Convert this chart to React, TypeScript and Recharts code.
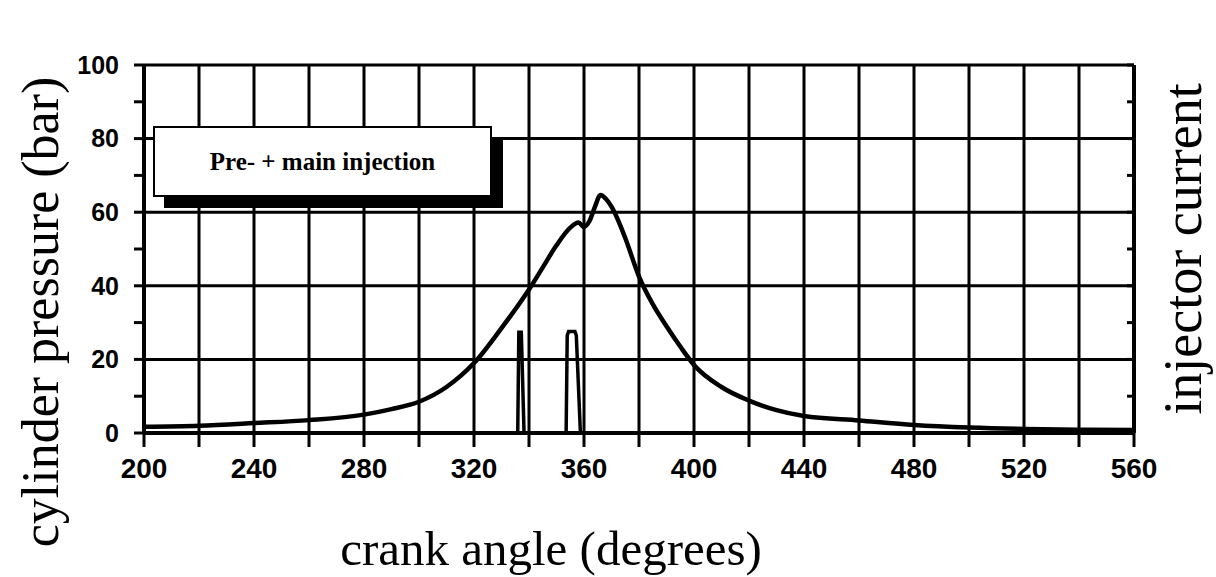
import { ComposedChart, Line, XAxis, YAxis, CartesianGrid, Label } from 'recharts';

// cylinder pressure trace (bar) vs crank angle (deg)
const crankAngle = [200, 220, 240, 260, 280, 290, 300, 310, 320, 330, 340, 345, 350, 355, 358, 360, 362, 364, 366, 368, 370, 375, 380, 385, 390, 395, 400, 410, 420, 430, 440, 460, 480, 500, 520, 540, 560];
const cylinderPressure = [1.7, 2.0, 2.7, 3.5, 5.0, 6.5, 8.5, 12.5, 19, 28.5, 39, 45, 51, 55.8, 57.2, 56, 57.6, 61.5, 64.7, 63.6, 61.5, 53, 42.5, 35, 29, 23.5, 18.5, 12.5, 8.8, 6.2, 4.6, 3.4, 2.2, 1.5, 1.1, 0.9, 0.8];

// injector current pulses (pre + main), same 0-100 scale on the right
const currentAngle = [330, 335.9, 336.3, 337.2, 338.2, 353.5, 353.9, 354.4, 356.7, 357.2, 358.7, 366];
const injectorCurrent = [0, 0, 27.4, 27.4, 0, 0, 26.5, 27.6, 27.6, 26.5, 0, 0];

const xTicks = [200, 220, 240, 260, 280, 300, 320, 340, 360, 380, 400, 420, 440, 460, 480, 500, 520, 540, 560];
const yTicks = [0, 10, 20, 30, 40, 50, 60, 70, 80, 90, 100];
const yGrid = [0, 20, 40, 60, 80, 100];

const pressureData = crankAngle.map((angle, i) => ({ angle, pressure: cylinderPressure[i] }));
const currentData = currentAngle.map((angle, i) => ({ angle, current: injectorCurrent[i] }));

const serif = '"Liberation Serif", "Times New Roman", serif';
const sans = '"Liberation Sans", Arial, sans-serif';

export default function App() {
  return (
    <div style={{ position: 'absolute', left: 0, top: 0, width: 1216, height: 577, background: '#fff' }}>
      <ComposedChart width={1216} height={577} margin={{ top: 65, right: 82, bottom: 104, left: 84 }}>
        <CartesianGrid
          yAxisId="left"
          stroke="#000"
          strokeWidth={3}
          verticalValues={xTicks}
          horizontalValues={yGrid}
        />
        <XAxis
          dataKey="angle"
          type="number"
          domain={[200, 560]}
          ticks={xTicks}
          allowDataOverflow
          height={40}
          tickSize={14}
          tickMargin={11}
          axisLine={{ stroke: '#000', strokeWidth: 4 }}
          tickLine={{ stroke: '#000', strokeWidth: 3 }}
          tick={{ fill: '#000', fontSize: 28, fontWeight: 700, fontFamily: sans }}
          tickFormatter={(v: number) => (v % 40 === 0 ? String(v) : '')}
        >
          <Label
            content={() => (
              <text x={551} y={565} textAnchor="middle" fontFamily={serif} fontSize={49} fill="#000">
                crank angle (degrees)
              </text>
            )}
          />
        </XAxis>
        <YAxis
          yAxisId="left"
          domain={[0, 100]}
          ticks={yTicks}
          width={60}
          tickSize={10}
          tickMargin={15}
          axisLine={{ stroke: '#000', strokeWidth: 4 }}
          tickLine={{ stroke: '#000', strokeWidth: 3 }}
          tick={{ fill: '#000', fontSize: 25, fontWeight: 700, fontFamily: sans }}
          tickFormatter={(v: number) => (v % 20 === 0 ? String(v) : '')}
        >
          <Label
            content={() => (
              <text
                x={58}
                y={312}
                transform="rotate(-90 58 312)"
                textAnchor="middle"
                fontFamily={serif}
                fontSize={52}
                fill="#000"
              >
                cylinder pressure (bar)
              </text>
            )}
          />
        </YAxis>
        <YAxis
          yAxisId="right"
          orientation="right"
          domain={[0, 100]}
          ticks={yTicks}
          width={1}
          mirror
          tickSize={7}
          axisLine={{ stroke: '#000', strokeWidth: 4 }}
          tickLine={{ stroke: '#000', strokeWidth: 3 }}
          tickFormatter={() => ''}
        >
          <Label
            content={() => (
              <text
                x={1201}
                y={249}
                transform="rotate(-90 1201 249)"
                textAnchor="middle"
                fontFamily={serif}
                fontSize={54}
                fill="#000"
              >
                injector current
              </text>
            )}
          />
        </YAxis>
        <Line
          yAxisId="left"
          data={pressureData}
          dataKey="pressure"
          type="monotone"
          stroke="#000"
          strokeWidth={4.5}
          dot={false}
          isAnimationActive={false}
        />
        <Line
          yAxisId="right"
          data={currentData}
          dataKey="current"
          type="linear"
          stroke="#000"
          strokeWidth={3.5}
          dot={false}
          isAnimationActive={false}
        />
      </ComposedChart>
      <div
        style={{
          position: 'absolute',
          left: 153,
          top: 126,
          width: 335,
          height: 67,
          border: '2px solid #000',
          background: '#fff',
          boxShadow: '11px 11px 0 #000',
          display: 'flex',
          alignItems: 'center',
          justifyContent: 'center',
          fontFamily: serif,
          fontWeight: 700,
          fontSize: 25,
          color: '#000',
        }}
      >
        Pre- + main injection
      </div>
    </div>
  );
}
